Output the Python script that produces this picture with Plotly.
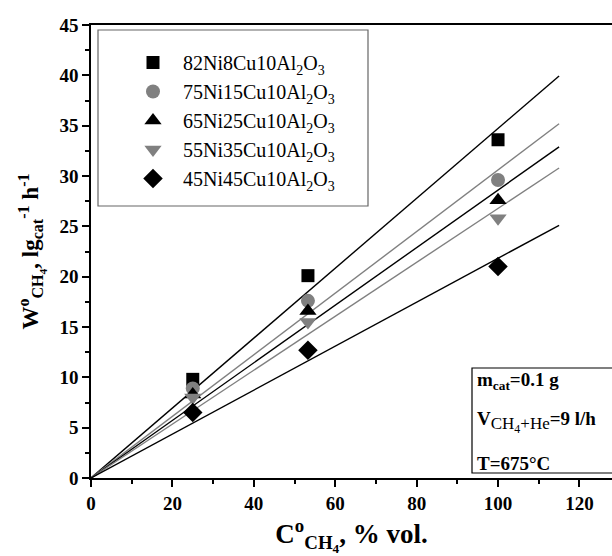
import plotly.graph_objects as go

# ---- data ----
conc = [25.0, 53.3, 100.0]
series_names = [
    "82Ni8Cu10Al<sub>2</sub>O<sub>3</sub>",
    "75Ni15Cu10Al<sub>2</sub>O<sub>3</sub>",
    "65Ni25Cu10Al<sub>2</sub>O<sub>3</sub>",
    "55Ni35Cu10Al<sub>2</sub>O<sub>3</sub>",
    "45Ni45Cu10Al<sub>2</sub>O<sub>3</sub>",
]
w_82 = [9.8, 20.1, 33.6]
w_75 = [8.9, 17.6, 29.6]
w_65 = [8.3, 16.6, 27.6]
w_55 = [8.0, 15.5, 25.8]
w_45 = [6.5, 12.7, 21.0]
series_values = [w_82, w_75, w_65, w_55, w_45]
fit_x = [0.0, 115.0]
x_ticks = [0, 20, 40, 60, 80, 100, 120]
y_ticks = [0, 5, 10, 15, 20, 25, 30, 35, 40, 45]

symbols = ["square", "circle", "triangle-up", "triangle-down", "diamond"]
colors = ["black", "#808080", "black", "#808080", "black"]
sizes = [13, 14, 15, 15, 15]

FONT = "Liberation Serif, Times New Roman, serif"

fig = go.Figure()

# fitted lines through origin (least squares)
for vals, col in zip(series_values, colors):
    slope = sum(x * y for x, y in zip(conc, vals)) / sum(x * x for x in conc)
    fig.add_trace(go.Scatter(
        x=fit_x, y=[slope * x for x in fit_x], mode="lines",
        line=dict(color=col, width=1.4), showlegend=False, hoverinfo="skip"))

for i, (name, vals, sym, col, sz) in enumerate(zip(series_names, series_values, symbols, colors, sizes)):
    fig.add_trace(go.Scatter(
        x=conc, y=vals, mode="markers", name="\u00a0\u00a0" + name,
        legendgroup=f"g{i}",
        marker=dict(symbol=sym, color=col, size=sz, line=dict(width=0))))

W, H = 612, 556
L, R, T, B = 91, 0, 25, 78
pw, ph = W - L - R, H - T - B

def px(xp):
    return (xp - L) / pw

def py(yp):
    return (H - B - yp) / ph

axis_common = dict(
    showline=True, linecolor="black", linewidth=1.5,
    ticks="outside", ticklen=7, tickwidth=1.5, tickcolor="black",
    showgrid=False, zeroline=False,
    tickfont=dict(family=FONT, size=19, color="black"),
)

fig.update_layout(
    width=W, height=H,
    margin=dict(l=L, r=R, t=T, b=B),
    paper_bgcolor="white", plot_bgcolor="white",
    font=dict(family=FONT, color="black"),
    xaxis=dict(
        range=[0, 128.0], tickvals=x_ticks, ticktext=[f"<b>{v}</b>" for v in x_ticks],
        minor=dict(dtick=10, tick0=0, ticks="outside", ticklen=4, tickwidth=1.5, tickcolor="black"),
        mirror=True,
        title=dict(text="<b>C<sup>o</sup><sub>CH<sub>4</sub></sub>, % vol.</b>",
                   font=dict(family=FONT, size=27, color="black"), standoff=14),
        **axis_common),
    yaxis=dict(
        range=[0, 45], tickvals=y_ticks, ticktext=[f"<b>{v}</b>" for v in y_ticks],
        minor=dict(dtick=2.5, tick0=0, ticks="outside", ticklen=4, tickwidth=1.5, tickcolor="black"),
        title=dict(text="<b>W<sup>o</sup><sub>CH<sub>4</sub></sub>, lg<sub>cat</sub><sup>-1</sup> h<sup>-1</sup></b>",
                   font=dict(family=FONT, size=23, color="black"), standoff=14),
        **axis_common),
    legend=dict(
        x=px(133), y=py(43), xanchor="left", yanchor="top",
        bgcolor="rgba(0,0,0,0)", borderwidth=0,
        font=dict(family=FONT, size=20, color="black"),
        traceorder="grouped", tracegroupgap=0, itemsizing="trace",
    ),
    showlegend=True,
)

# legend frame
fig.add_shape(type="rect", xref="paper", yref="paper",
              x0=px(98), x1=px(368), y0=py(206), y1=py(30),
              line=dict(color="#666666", width=1.2), fillcolor="rgba(0,0,0,0)")
# conditions frame
fig.add_shape(type="rect", xref="paper", yref="paper",
              x0=px(472), x1=1.02, y0=py(473), y1=py(368),
              line=dict(color="black", width=1.2), fillcolor="rgba(0,0,0,0)")

notes = [
    ("<b>m<sub>cat</sub>=0.1 g</b>", 381),
    ("<b>V</b><sub><span style='font-size:17px'>CH<sub>4</sub>+He</span></sub><b>=9 l/h</b>", 422),
    ("<b>T=675°C</b>", 463),
]
for txt, yc in notes:
    fig.add_annotation(xref="paper", yref="paper", x=px(475), y=py(yc),
                       xanchor="left", yanchor="middle", showarrow=False,
                       text=txt,
                       font=dict(family=FONT, size=19, color="black"))

fig.write_html("out.html")
